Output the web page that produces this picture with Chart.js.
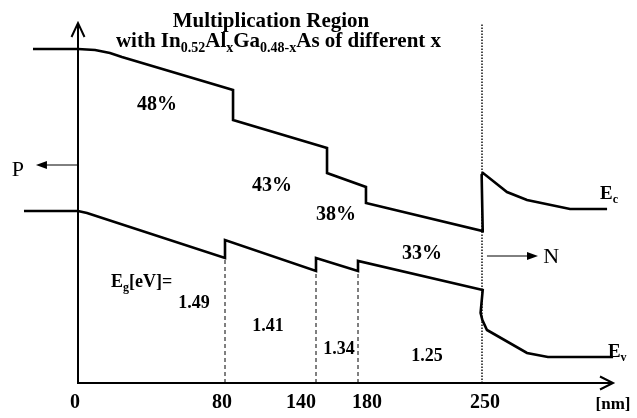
<!DOCTYPE html>
<html>
<head>
<meta charset="utf-8">
<script src="https://cdn.jsdelivr.net/npm/chart.js@4"></script>
<style>
  html, body { margin: 0; padding: 0; background: #fff; }
  #wrap { width: 637px; height: 418px; position: relative; }
</style>
</head>
<body>
<div id="wrap"><canvas id="band"></canvas></div>
<script>
// band edges, position in nm, energy in arbitrary units (schematic)
const ecNm = [-24.5, 0, 9.3, 17.4, 23.9, 85.3, 85.3, 150.5, 150.5, 184.5, 184.5, 250.4, 249.8, 250.6, 264.1, 275.4, 299.7, 320.6];
const ecLevel = [3.34, 3.34, 3.33, 3.30, 3.26, 2.93, 2.63, 2.35, 2.10, 1.96, 1.80, 1.52, 2.08, 2.10, 1.91, 1.83, 1.74, 1.74];

const evNm = [-29.4, 0, 4.9, 80, 80, 140, 140, 180, 180, 250.4, 249.2, 250.2, 252.8, 275.4, 287.2, 324.0];
const evLevel = [1.72, 1.72, 1.70, 1.25, 1.43, 1.12, 1.25, 1.12, 1.22, 0.93, 0.70, 0.63, 0.53, 0.30, 0.26, 0.26];

// layer boundaries and p-n junction
const interfaceNm = [80, 140, 180];
const junctionNm = 250;

// x tick labels
const tickNm = [0, 80, 140, 180, 250];

// Al content and band gap of each layer
const compositions = ['48%', '43%', '38%', '33%'];
const bandgaps = ['1.49', '1.41', '1.34', '1.25'];

// ---- layout (not data) ----
// the drawing is not to scale: where each nm tick sits along the axis
const tickAxisPos = [0, 147, 238, 280, 404];
const tickLabelShift = [-3, -3, -15, 9, 3];
const compositionAt = [[43, 2.78], [111, 1.97], [159, 1.68], [216.1, 1.29]];
const bandgapAt = [[63.1, 0.80], [108.4, 0.57], [161.9, 0.34], [219, 0.27]];
const axisTop = 3.6;
const axisEnd = 535;

function nmToAxis(nm) {
  const n = tickNm.length;
  let i = 0;
  if (nm >= tickNm[n - 1]) i = n - 2;
  else {
    while (i < n - 2 && nm > tickNm[i + 1]) i++;
  }
  const slope = (tickAxisPos[i + 1] - tickAxisPos[i]) / (tickNm[i + 1] - tickNm[i]);
  return tickAxisPos[i] + (nm - tickNm[i]) * slope;
}

function toPoints(xs, ys) {
  return xs.map((v, i) => ({ x: nmToAxis(v), y: ys[i] }));
}

const SERIF = '"Liberation Serif", "Times New Roman", serif';

function drawRich(ctx, parts, x, y, align, size) {
  const mainFont = `bold ${size}px ${SERIF}`;
  const subFont = `bold ${Math.round(size * 0.65)}px ${SERIF}`;
  let total = 0;
  parts.forEach(([t, sub]) => {
    ctx.font = sub ? subFont : mainFont;
    total += ctx.measureText(t).width;
  });
  let cx = align === 'center' ? x - total / 2 : x;
  ctx.textAlign = 'left';
  ctx.textBaseline = 'alphabetic';
  parts.forEach(([t, sub]) => {
    ctx.font = sub ? subFont : mainFont;
    ctx.fillText(t, cx, sub ? y + size * 0.22 : y);
    cx += ctx.measureText(t).width;
  });
}

function arrowHead(ctx, tipX, tipY, dir, len, half) {
  ctx.beginPath();
  ctx.moveTo(tipX, tipY);
  ctx.lineTo(tipX - dir * len, tipY - half);
  ctx.lineTo(tipX - dir * len, tipY + half);
  ctx.closePath();
  ctx.fill();
}

const bandDecor = {
  id: 'bandDecor',
  beforeDatasetsDraw(chart) {
    const { ctx, scales: { x, y } } = chart;
    const x0 = x.getPixelForValue(0);
    const y0 = y.getPixelForValue(0);
    const yTop = y.getPixelForValue(axisTop);
    const xEnd = x.getPixelForValue(axisEnd);
    ctx.save();
    ctx.strokeStyle = '#000';
    ctx.lineWidth = 2;
    ctx.beginPath();
    ctx.moveTo(x0, y0);
    ctx.lineTo(x0, yTop);
    ctx.moveTo(x0 - 1, y0);
    ctx.lineTo(xEnd, y0);
    // open arrow heads
    ctx.moveTo(x0 - 6.5, yTop + 14);
    ctx.lineTo(x0, yTop);
    ctx.lineTo(x0 + 6.5, yTop + 14);
    ctx.moveTo(xEnd - 13, y0 - 6.5);
    ctx.lineTo(xEnd, y0);
    ctx.lineTo(xEnd - 13, y0 + 6.5);
    ctx.stroke();
    ctx.restore();
  },
  afterDatasetsDraw(chart) {
    const { ctx, scales: { x, y } } = chart;
    const px = nm => x.getPixelForValue(nmToAxis(nm));
    const py = e => y.getPixelForValue(e);
    ctx.save();
    ctx.fillStyle = '#000';
    ctx.strokeStyle = '#000';

    // title
    ctx.font = `bold 21px ${SERIF}`;
    ctx.textAlign = 'center';
    ctx.textBaseline = 'alphabetic';
    ctx.fillText('Multiplication Region', 271, 27);
    drawRich(ctx, [['with In', 0], ['0.52', 1], ['Al', 0], ['x', 1], ['Ga', 0], ['0.48-x', 1], ['As of different x', 0]], 278.5, 47, 'center', 21);

    // x ticks
    ctx.font = `bold 20px ${SERIF}`;
    ctx.textAlign = 'center';
    ctx.textBaseline = 'middle';
    tickNm.forEach((t, i) => ctx.fillText(String(t), px(t) + tickLabelShift[i], 403));
    ctx.font = `bold 17px ${SERIF}`;
    ctx.fillText('[nm]', 613, 405);

    // layer labels
    ctx.font = `bold 20px ${SERIF}`;
    compositions.forEach((c, i) => ctx.fillText(c, px(compositionAt[i][0]), py(compositionAt[i][1])));
    ctx.font = `bold 18px ${SERIF}`;
    bandgaps.forEach((g, i) => ctx.fillText(g, px(bandgapAt[i][0]), py(bandgapAt[i][1])));
    drawRich(ctx, [['E', 0], ['g', 1], ['[eV]=', 0]], px(18.0), py(0.96), 'left', 18);

    // band labels
    drawRich(ctx, [['E', 0], ['c', 1]], px(316.6), py(1.84), 'left', 19);
    drawRich(ctx, [['E', 0], ['v', 1]], px(321.1), py(0.26), 'left', 19);

    // P / N arrows
    ctx.lineWidth = 1;
    ctx.beginPath();
    ctx.moveTo(px(0), py(2.18));
    ctx.lineTo(px(-22.9) + 8, py(2.18));
    ctx.moveTo(px(252.8), py(1.27));
    ctx.lineTo(px(281.6) - 8, py(1.27));
    ctx.stroke();
    arrowHead(ctx, px(-22.9), py(2.18), -1, 11, 4);
    arrowHead(ctx, px(281.6), py(1.27), 1, 11, 4);
    ctx.font = `22px ${SERIF}`;
    ctx.textAlign = 'center';
    ctx.textBaseline = 'middle';
    ctx.fillText('P', px(-32.7), py(2.13));
    ctx.fillText('N', px(289.0), py(1.26));
    ctx.restore();
  }
};

const interfaceSets = interfaceNm.map(nm => {
  const bottom = Math.min(...evLevel.filter((v, i) => evNm[i] === nm));
  return {
    data: [{ x: nmToAxis(nm), y: 0 }, { x: nmToAxis(nm), y: bottom }],
    borderColor: '#000',
    borderWidth: 1,
    borderDash: [4, 3],
    pointRadius: 0
  };
});

new Chart(document.getElementById('band'), {
  type: 'line',
  data: {
    datasets: [
      {
        label: 'Ec',
        data: toPoints(ecNm, ecLevel),
        borderColor: '#000',
        borderWidth: 2.6,
        pointRadius: 0,
        tension: 0
      },
      {
        label: 'Ev',
        data: toPoints(evNm, evLevel),
        borderColor: '#000',
        borderWidth: 2.6,
        pointRadius: 0,
        tension: 0
      },
      ...interfaceSets,
      {
        data: [{ x: nmToAxis(junctionNm), y: 0 }, { x: nmToAxis(junctionNm), y: axisTop }],
        borderColor: '#000',
        borderWidth: 1.4,
        borderDash: [1.5, 1.5],
        pointRadius: 0
      }
    ]
  },
  options: {
    responsive: true,
    maintainAspectRatio: false,
    animation: false,
    layout: { padding: { left: 20, right: 9, top: 0, bottom: 35 } },
    plugins: { legend: { display: false }, tooltip: { enabled: false }, title: { display: false } },
    elements: { line: { borderCapStyle: 'butt', borderJoinStyle: 'miter' } },
    scales: {
      x: { type: 'linear', min: -58, max: 550, display: false },
      y: { type: 'linear', min: 0, max: 3.83, display: false }
    }
  },
  plugins: [bandDecor]
});
</script>
</body>
</html>
